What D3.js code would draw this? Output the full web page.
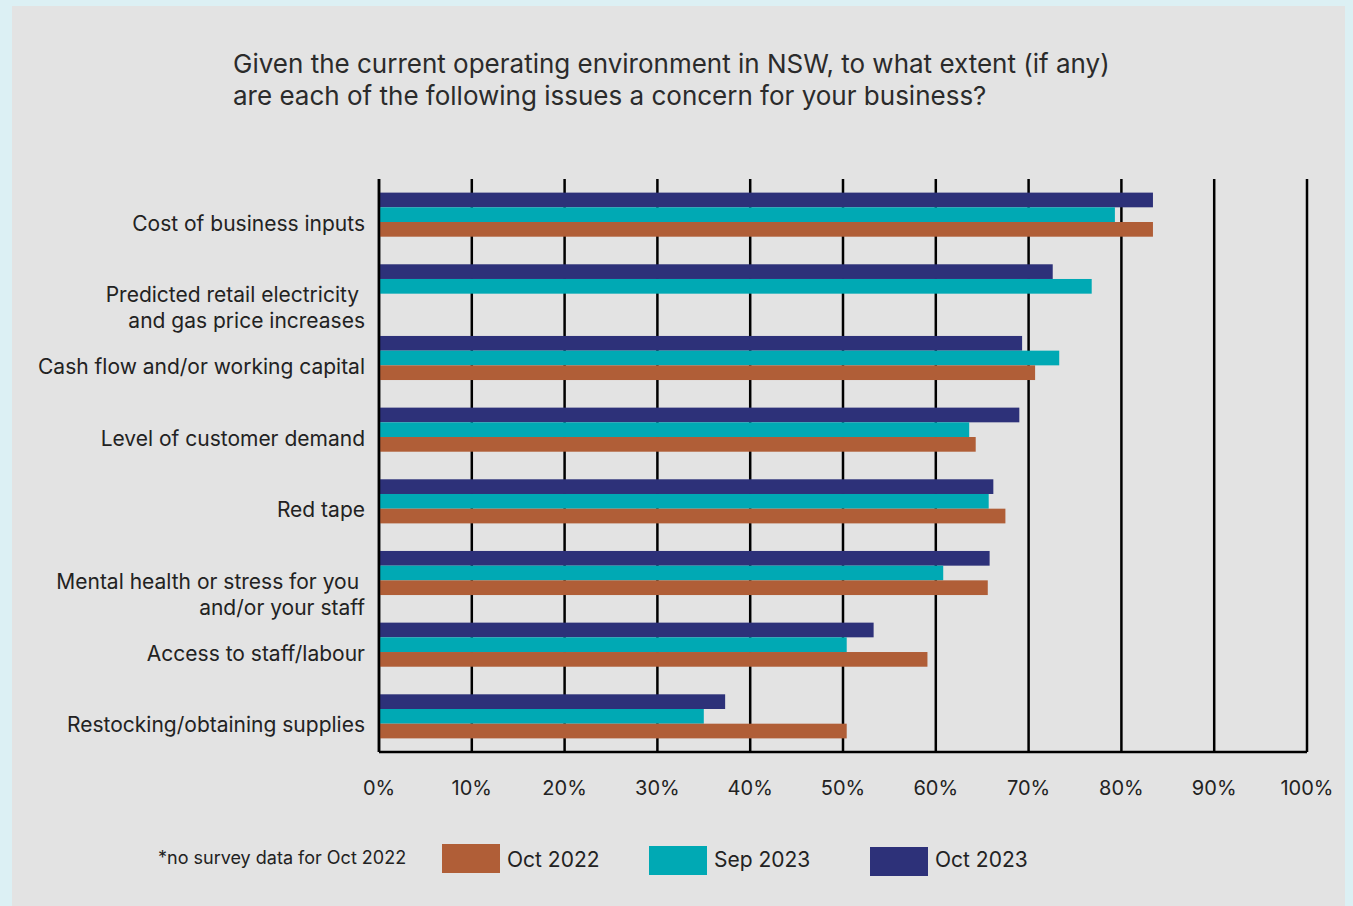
<!DOCTYPE html>
<html>
<head>
<meta charset="utf-8">
<script src="https://cdn.jsdelivr.net/npm/d3@7"></script>
<style>
  body { margin: 0; background: #dcf0f4; }
  #chart svg { display: block; }
  text { font-family: Inter, "Noto Sans", sans-serif; fill: #222; }
</style>
</head>
<body>
<div id="chart"></div>
<script>
const categories = [
  ["Cost of business inputs"],
  ["Predicted retail electricity ", "and gas price increases"],
  ["Cash flow and/or working capital"],
  ["Level of customer demand"],
  ["Red tape"],
  ["Mental health or stress for you ", "and/or your staff"],
  ["Access to staff/labour"],
  ["Restocking/obtaining supplies"]
];
const seriesNames = ["Oct 2023", "Sep 2023", "Oct 2022"];
const oct2023 = [83.4, 72.6, 69.3, 69.0, 66.2, 65.8, 53.3, 37.3];
const sep2023 = [79.3, 76.8, 73.3, 63.6, 65.7, 60.8, 50.4, 35.0];
const oct2022 = [83.4, null, 70.7, 64.3, 67.5, 65.6, 59.1, 50.4];
const tickValues = [0, 10, 20, 30, 40, 50, 60, 70, 80, 90, 100];
const colors = { "Oct 2022": "#b05e37", "Sep 2023": "#00a9b4", "Oct 2023": "#2d3179" };

const W = 1353, H = 906;
const margin = { top: 179, left: 379, right: 46, bottom: 154 };
const width = W - margin.left - margin.right;
const height = H - margin.top - margin.bottom;

const svg = d3.select("#chart").append("svg")
  .attr("width", W).attr("height", H);

// grey panel
svg.append("rect").attr("x", 12).attr("y", 6).attr("width", 1333).attr("height", 900)
  .attr("fill", "#e3e3e3");

// title
const title = svg.append("text").attr("x", 233).attr("y", 73).style("font-size", "26px").style("fill", "#2b2b2b");
title.append("tspan").attr("x", 233).text("Given the current operating environment in NSW, to what extent (if any)");
title.append("tspan").attr("x", 233).attr("dy", 32).text("are each of the following issues a concern for your business?");

const g = svg.append("g").attr("transform", "translate(" + margin.left + "," + margin.top + ")");

const x = d3.scaleLinear().domain([0, 100]).range([0, width]);
const y0 = d3.scaleBand().domain(d3.range(categories.length)).range([0, height]).paddingInner(0.385).paddingOuter(0.19);
const y1 = d3.scaleBand().domain(seriesNames).range([0, y0.bandwidth()]);

// gridlines
g.selectAll(".grid").data(tickValues).enter().append("line")
  .attr("x1", d => x(d)).attr("x2", d => x(d))
  .attr("y1", 0).attr("y2", height)
  .attr("stroke", "#000").attr("stroke-width", 2.5);

// bars
const data = [];
categories.forEach((c, i) => {
  [["Oct 2023", oct2023], ["Sep 2023", sep2023], ["Oct 2022", oct2022]].forEach(([s, arr]) => {
    if (arr[i] != null) data.push({ i: i, s: s, v: arr[i] });
  });
});
g.selectAll(".bar").data(data).enter().append("rect")
  .attr("x", 0)
  .attr("y", d => y0(d.i) + y1(d.s))
  .attr("width", d => x(d.v))
  .attr("height", y1.bandwidth())
  .attr("fill", d => colors[d.s]);

// axes lines
g.append("line").attr("x1", 0).attr("x2", width).attr("y1", height).attr("y2", height)
  .attr("stroke", "#000").attr("stroke-width", 2.5);
g.append("line").attr("x1", 0).attr("x2", 0).attr("y1", 0).attr("y2", height)
  .attr("stroke", "#000").attr("stroke-width", 2.5);

// x tick labels
g.selectAll(".xt").data(tickValues).enter().append("text")
  .attr("x", d => x(d)).attr("y", height + 43)
  .attr("text-anchor", "middle").style("font-size", "20px")
  .text(d => d + "%");

// category labels
categories.forEach((c, i) => {
  const cy = y0(i) + y0.bandwidth() / 2;
  const t = g.append("text").attr("text-anchor", "end").style("font-size", "21px");
  t.append("tspan").attr("x", -14).attr("y", cy + 16).text(c[0]);
  if (c.length > 1) {
    t.append("tspan").attr("x", -14).attr("dy", 26).text(c[1]);
  }
});

// legend
svg.append("text").attr("x", 158).attr("y", 864).style("font-size", "18px").text("*no survey data for Oct 2022");
const legendItems = [
  { s: "Oct 2022", x: 442, y: 844 },
  { s: "Sep 2023", x: 649, y: 846 },
  { s: "Oct 2023", x: 870, y: 847 }
];
legendItems.forEach(d => {
  svg.append("rect").attr("x", d.x).attr("y", d.y).attr("width", 58).attr("height", 29).attr("fill", colors[d.s]);
  svg.append("text").attr("x", d.x + 65).attr("y", 867).style("font-size", "21px").text(d.s);
});
</script>
</body>
</html>
